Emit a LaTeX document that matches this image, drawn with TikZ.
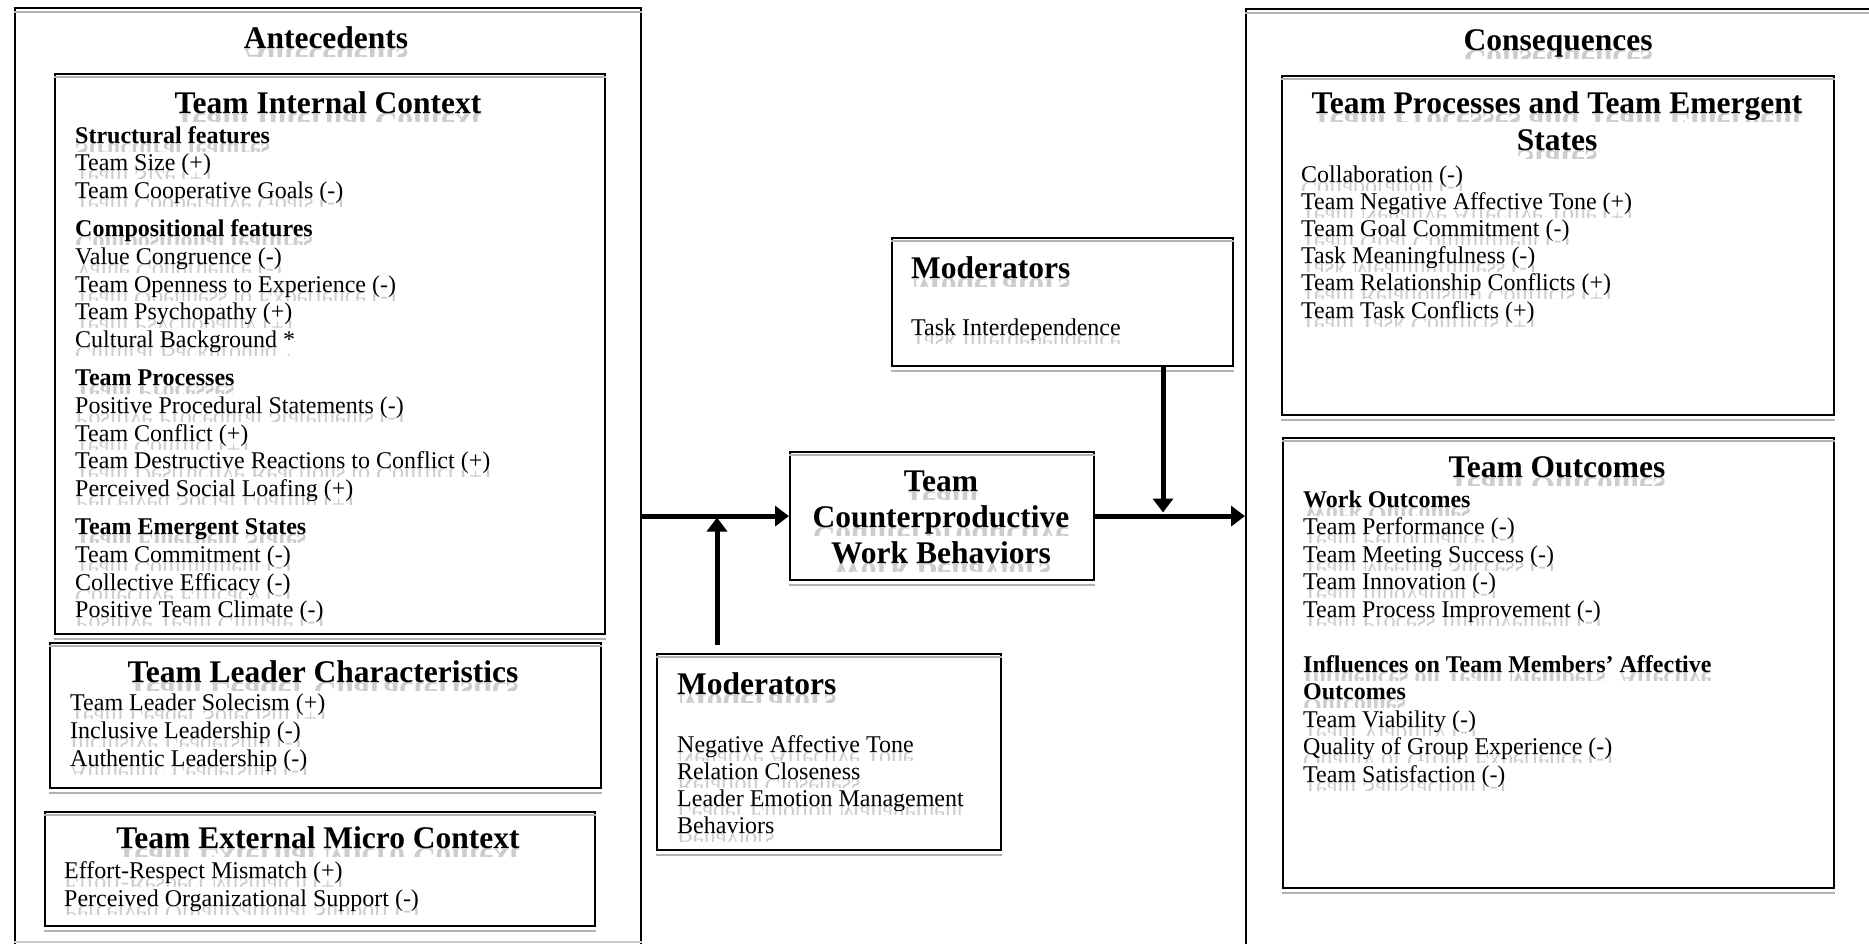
\documentclass[tikz,border=0pt]{standalone}
\usepackage{fontspec}
\setmainfont{Liberation Serif}
\usetikzlibrary{arrows.meta}
\tikzset{
  box/.style={draw=black, line width=2.2pt, fill=white, inner sep=0pt, anchor=north west},
  outerbox/.style={draw=black, line width=1.8pt, inner sep=0pt, anchor=north west},
  bevel/.style={draw=black!30, line width=2pt},
  conn/.style={line width=5pt, -{Triangle[length=14pt,width=20pt]}},
  txt/.style={inner sep=0pt},
  refl/.style={inner sep=0pt, text=black!20, yscale=-1},
}
\newcommand\bodyf{\fontsize{24}{27.6}\selectfont}
\newcommand\bodyb{\fontsize{24}{27.6}\selectfont\bfseries}
\newcommand\titf{\fontsize{31.5}{37}\selectfont\bfseries}
% text line with its grey reflection: name, anchor, font, x, y(baseline), text
\newcommand\tl[6]{%
  \begin{scope}
    \clip (#4-400,#5) rectangle (#4+700,#5+8);
    \node[refl, anchor=#2, font=#3] (#1-r) at (#4,#5) {#6};
  \end{scope}
  \node[txt, anchor=#2, font=#3] (#1) at (#4,#5) {#6};}
\newcommand\bevelbox[1]{%
  \draw[bevel] ([yshift=-4pt]#1.north west) -- ([yshift=-4pt]#1.north east);
  \draw[bevel] ([yshift=-4pt]#1.south west) -- ([yshift=-4pt]#1.south east);}
\begin{document}
\begin{tikzpicture}[x=1pt,y=-1pt]
\useasboundingbox (0,0) rectangle (1869,943);
\clip (0,0) rectangle (1869,943);
\fill[white] (0,0) rectangle (1869,943);

% outer boxes
\node[outerbox, minimum width=626pt, minimum height=945pt] (ante) at (14,7) {};
\draw[bevel] ([yshift=-5pt]ante.north west) -- ([yshift=-5pt]ante.north east);
\draw[bevel, black!20] (ante.west |- 0,942) -- (ante.east |- 0,942);
\node[outerbox, minimum width=700pt, minimum height=1000pt] (cons) at (1245,8) {};
\draw[bevel] ([yshift=-5pt]cons.north west) -- ([yshift=-5pt]cons.north east);

% inner boxes
\node[box, minimum width=550pt, minimum height=560pt] (tic) at (54,73) {};
\bevelbox{tic}
\node[box, minimum width=551pt, minimum height=145pt] (tlc) at (49,642) {};
\bevelbox{tlc}
\node[box, minimum width=550pt, minimum height=114pt] (temc) at (44,811) {};
\bevelbox{temc}
\node[box, minimum width=341pt, minimum height=128pt] (mod1) at (891,237) {};
\bevelbox{mod1}
\node[box, minimum width=304pt, minimum height=128pt] (cwb) at (789,451) {};
\bevelbox{cwb}
\node[box, minimum width=344pt, minimum height=196pt] (mod2) at (656,653) {};
\bevelbox{mod2}
\node[box, minimum width=552pt, minimum height=339pt] (tpes) at (1281,75) {};
\bevelbox{tpes}
\node[box, minimum width=551pt, minimum height=450pt] (tout) at (1282,437) {};
\bevelbox{tout}

% antecedents texts
\tl{t-ante}{base}{\titf}{326}{48}{Antecedents}
\tl{t-tic}{base}{\titf}{328}{113}{Team Internal Context}
\tl{a1}{base west}{\bodyb}{75}{143}{Structural features}
\tl{a2}{base west}{\bodyf}{75}{170.6}{Team Size (+)}
\tl{a3}{base west}{\bodyf}{75}{198.2}{Team Cooperative Goals (-)}
\tl{a4}{base west}{\bodyb}{75}{236.8}{Compositional features}
\tl{a5}{base west}{\bodyf}{75}{264.4}{Value Congruence (-)}
\tl{a6}{base west}{\bodyf}{75}{292}{Team Openness to Experience (-)}
\tl{a7}{base west}{\bodyf}{75}{319.6}{Team Psychopathy (+)}
\tl{a8}{base west}{\bodyf}{75}{347.2}{Cultural Background *}
\tl{a9}{base west}{\bodyb}{75}{385.8}{Team Processes}
\tl{a10}{base west}{\bodyf}{75}{413.4}{Positive Procedural Statements (-)}
\tl{a11}{base west}{\bodyf}{75}{441}{Team Conflict (+)}
\tl{a12}{base west}{\bodyf}{75}{468.6}{Team Destructive Reactions to Conflict (+)}
\tl{a13}{base west}{\bodyf}{75}{496.2}{Perceived Social Loafing (+)}
\tl{a14}{base west}{\bodyb}{75}{534.8}{Team Emergent States}
\tl{a15}{base west}{\bodyf}{75}{562.4}{Team Commitment (-)}
\tl{a16}{base west}{\bodyf}{75}{590}{Collective Efficacy (-)}
\tl{a17}{base west}{\bodyf}{75}{617.6}{Positive Team Climate (-)}

\tl{t-tlc}{base}{\titf}{323}{682}{Team Leader Characteristics}
\tl{l1}{base west}{\bodyf}{70}{710}{Team Leader Solecism (+)}
\tl{l2}{base west}{\bodyf}{70}{738}{Inclusive Leadership (-)}
\tl{l3}{base west}{\bodyf}{70}{766}{Authentic Leadership (-)}

\tl{t-temc}{base}{\titf}{318}{848}{Team External Micro Context}
\tl{e1}{base west}{\bodyf}{64}{878}{Effort-Respect Mismatch (+)}
\tl{e2}{base west}{\bodyf}{64}{906}{Perceived Organizational Support (-)}

% middle texts
\tl{t-mod1}{base west}{\titf}{911}{278}{Moderators}
\tl{m1}{base west}{\bodyf}{911}{335}{Task Interdependence}
\tl{c1}{base}{\titf}{941}{491}{Team}
\tl{c2}{base}{\titf}{941}{527}{Counterproductive}
\tl{c3}{base}{\titf}{941}{563}{Work Behaviors}
\tl{t-mod2}{base west}{\titf}{677}{694}{Moderators}
\tl{n1}{base west}{\bodyf}{677}{752}{Negative Affective Tone}
\tl{n2}{base west}{\bodyf}{677}{779}{Relation Closeness}
\tl{n3}{base west}{\bodyf}{677}{806}{Leader Emotion Management}
\tl{n4}{base west}{\bodyf}{677}{833}{Behaviors}

% consequences texts
\tl{t-cons}{base}{\titf}{1558}{50}{Consequences}
\tl{t-tpes1}{base}{\titf}{1557}{113}{Team Processes and Team Emergent}
\tl{t-tpes2}{base}{\titf}{1557}{150}{States}
\tl{p1}{base west}{\bodyf}{1301}{182}{Collaboration (-)}
\tl{p2}{base west}{\bodyf}{1301}{209.2}{Team Negative Affective Tone (+)}
\tl{p3}{base west}{\bodyf}{1301}{236.4}{Team Goal Commitment (-)}
\tl{p4}{base west}{\bodyf}{1301}{263.6}{Task Meaningfulness (-)}
\tl{p5}{base west}{\bodyf}{1301}{290.8}{Team Relationship Conflicts (+)}
\tl{p6}{base west}{\bodyf}{1301}{318}{Team Task Conflicts (+)}

\tl{t-tout}{base}{\titf}{1557}{477}{Team Outcomes}
\tl{o1}{base west}{\bodyb}{1303}{507}{Work Outcomes}
\tl{o2}{base west}{\bodyf}{1303}{534.5}{Team Performance (-)}
\tl{o3}{base west}{\bodyf}{1303}{562}{Team Meeting Success (-)}
\tl{o4}{base west}{\bodyf}{1303}{589.5}{Team Innovation (-)}
\tl{o5}{base west}{\bodyf}{1303}{617}{Team Process Improvement (-)}
\tl{o6}{base west}{\bodyb}{1303}{672}{Influences on Team Members’ Affective}
\tl{o7}{base west}{\bodyb}{1303}{699.5}{Outcomes}
\tl{o8}{base west}{\bodyf}{1303}{727}{Team Viability (-)}
\tl{o9}{base west}{\bodyf}{1303}{754.5}{Quality of Group Experience (-)}
\tl{o10}{base west}{\bodyf}{1303}{782}{Team Satisfaction (-)}

% connectors
\coordinate (j1) at (717,515);
\coordinate (j2) at (1163,515);
\draw[conn] (ante.east |- cwb.west) -- (cwb.west);
\draw[conn, shorten <=8pt, shorten >=2.5pt] (mod2.north -| j1) -- (j1);
\draw[conn] (cwb.east) -- (cons.west |- cwb.east);
\draw[conn, shorten >=2.5pt] (mod1.south -| j2) -- (j2);
\end{tikzpicture}
\end{document}
